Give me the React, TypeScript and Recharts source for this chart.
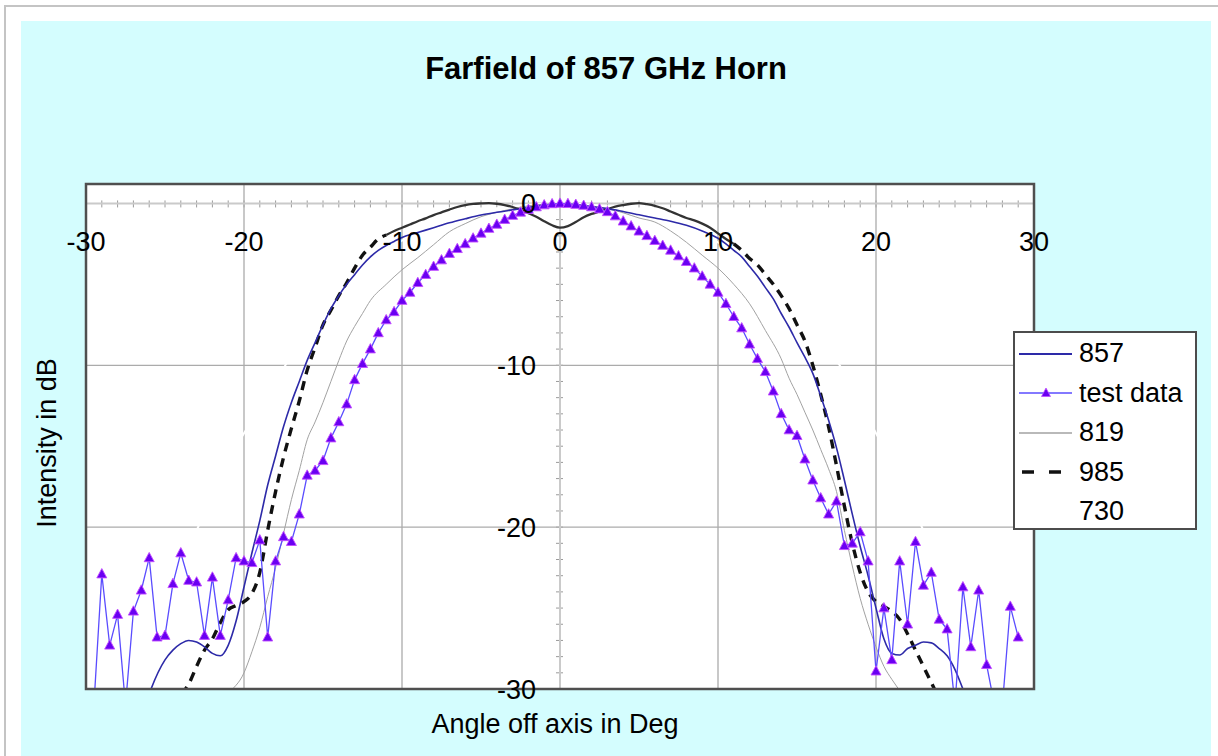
import React from 'react';
import {
  LineChart,
  Line,
  XAxis,
  YAxis,
  ReferenceLine,
  ReferenceDot,
  ReferenceArea,
  Legend,
} from 'recharts';

// ---- chart values -------------------------------------------------------

// Axis ranges and labelled ticks
const X_DOMAIN: [number, number] = [-30, 30];
const Y_DOMAIN: [number, number] = [-30, 1.2];
const X_TICKS = [-30, -20, -10, 0, 10, 20, 30];
const Y_TICKS = [0, -10, -20, -30];
const X_GRID = [-20, -10, 10, 20];
const Y_GRID = [-10, -20];
const X_MINOR = Array.from({ length: 61 }, (_, i) => i - 30);
const Y_MINOR = Array.from({ length: 31 }, (_, i) => -i);

// Simulated 857 GHz beam: [angle deg, intensity dB]
const beam857: [number, number][] = [
  [-28, -38], [-27, -33.5], [-26, -30.3], [-25, -28.2], [-24.5, -27.6], [-24, -27.2],
  [-23.5, -27.0], [-23, -27.1], [-22.5, -27.4], [-22, -27.8], [-21.5, -27.95], [-21, -27.3],
  [-20.5, -25.8], [-20, -23.7], [-19.5, -21.6], [-19, -19.6], [-18.5, -17.4], [-18, -15.6],
  [-17.5, -13.8], [-17, -12.3], [-16.5, -11.0], [-16, -9.7], [-15.5, -8.6], [-15, -7.5],
  [-14.5, -6.5], [-14, -5.7], [-13.5, -5.0], [-13, -4.4], [-12.5, -3.8], [-12, -3.3],
  [-11.5, -2.9], [-11, -2.6], [-10.5, -2.35], [-10, -2.1], [-9, -1.8], [-8, -1.5],
  [-7, -1.2], [-6, -0.95], [-5, -0.72], [-4, -0.55], [-3, -0.4], [-2, -0.25], [-1, -0.1],
  [0, -0.05], [1, -0.08], [2, -0.2], [3, -0.32], [4, -0.5], [5, -0.7], [6, -0.9], [7, -1.1],
  [8, -1.35], [9, -1.7], [10, -2.15], [10.5, -2.5], [11, -2.9], [11.5, -3.3], [12, -3.9],
  [12.5, -4.5], [13, -5.2], [13.5, -5.9], [14, -6.8], [14.5, -7.65], [15, -8.6], [15.5, -9.5],
  [16, -10.5], [16.5, -11.9], [17, -13.4], [17.5, -15.1], [18, -17.1], [18.5, -19.2],
  [19, -21.2], [19.5, -23.0], [20, -25.0], [20.5, -26.9], [21, -27.8], [21.5, -27.9],
  [22, -27.5], [22.5, -27.3], [23, -27.1], [23.5, -27.15], [24, -27.5], [24.5, -27.95],
  [25, -28.8], [25.5, -30.0], [26, -31.2], [27, -34], [28, -38],
];

// Measured horn pattern
const testData: [number, number][] = [
  [-29.5, -31], [-29, -22.9], [-28.5, -27.3], [-28, -25.4], [-27.5, -31], [-27, -25.2],
  [-26.5, -23.9], [-26, -21.9], [-25.5, -26.8], [-25, -26.7], [-24.5, -23.5], [-24, -21.6],
  [-23.5, -23.3], [-23, -23.4], [-22.5, -26.7], [-22, -23.1], [-21.5, -26.7], [-21, -24.5],
  [-20.5, -21.9], [-20, -22.1], [-19.5, -22.2], [-19, -20.8], [-18.5, -26.8], [-18, -22.1],
  [-17.5, -20.6], [-17, -20.9], [-16.5, -19.2], [-16, -16.8], [-15.5, -16.5], [-15, -15.9],
  [-14.5, -14.5], [-14, -13.5], [-13.5, -12.4], [-13, -10.9], [-12.5, -9.9], [-12, -9.0],
  [-11.5, -8.0], [-11, -7.2], [-10.5, -6.7], [-10, -6.0], [-9.5, -5.5], [-9, -4.9],
  [-8.5, -4.4], [-8, -3.9], [-7.5, -3.5], [-7, -3.1], [-6.5, -2.8], [-6, -2.5],
  [-5.5, -2.15], [-5, -1.85], [-4.5, -1.55], [-4, -1.3], [-3.5, -1.0], [-3, -0.75],
  [-2.5, -0.55], [-2, -0.38], [-1.5, -0.22], [-1, -0.1], [-0.5, -0.03], [0, 0],
  [0.5, -0.02], [1, -0.07], [1.5, -0.13], [2, -0.22], [2.5, -0.35], [3, -0.52],
  [3.5, -0.78], [4, -1.1], [4.5, -1.4], [5, -1.72], [5.5, -2.0], [6, -2.3],
  [6.5, -2.6], [7, -2.9], [7.5, -3.25], [8, -3.6], [8.5, -4.0], [9, -4.5],
  [9.5, -5.0], [10, -5.5], [10.5, -6.2], [11, -7.0], [11.5, -7.7], [12, -8.7],
  [12.5, -9.6], [13, -10.4], [13.5, -11.6], [14, -13.0], [14.5, -14.0], [15, -14.35],
  [15.5, -15.8], [16, -17.1], [16.5, -18.2], [17, -19.2], [17.5, -18.4], [18, -21.15],
  [18.5, -21.0], [19, -20.3], [19.5, -22.1], [20, -28.9], [20.5, -25.0], [21, -28.2],
  [21.5, -22.1], [22, -26.0], [22.5, -20.9], [23, -23.6], [23.5, -22.8], [24, -25.7],
  [24.5, -26.3], [25, -31], [25.5, -23.7], [26, -27.4], [26.5, -23.9], [27, -28.5],
  [27.5, -31], [28, -31], [28.5, -24.9], [29, -26.8],
];

// Simulated 819 GHz beam
const beam819: [number, number][] = [
  [-23, -32], [-22, -31.5], [-21, -30.3], [-20, -29.0], [-19.5, -27.7], [-19, -26.2],
  [-18.5, -24.3], [-18, -22.5], [-17.5, -20.4], [-17, -18.3], [-16.5, -16.5], [-16, -14.6],
  [-15.5, -13.5], [-15, -12.3], [-14.5, -11.0], [-14, -9.7], [-13.5, -8.5], [-13, -7.6],
  [-12.5, -6.8], [-12, -6.0], [-11, -5.0], [-10, -4.1], [-9, -3.35], [-8, -2.55], [-7, -1.75],
  [-6, -1.25], [-5, -0.82], [-4, -0.55], [-3, -0.33], [-2, -0.15], [-1, -0.04], [0, 0],
  [1, -0.04], [2, -0.17], [3, -0.32], [4, -0.58], [5, -0.9], [6, -1.15], [7, -1.7], [8, -2.4],
  [9, -3.2], [10, -4.0], [11, -5.0], [12, -6.2], [13, -7.85], [14, -9.6], [14.5, -10.8],
  [15, -11.8], [15.5, -12.9], [16, -14.0], [16.5, -15.2], [17, -16.4], [17.5, -17.8],
  [18, -20.2], [18.5, -22.4], [19, -24.4], [19.5, -26.0], [20, -27.4], [20.5, -28.6],
  [21, -29.4], [21.5, -30.1], [22, -30.8], [23, -32],
];

// Simulated 985 GHz beam
const beam985: [number, number][] = [
  [-25, -32], [-24, -30.4], [-23.5, -29.7], [-23, -28.6], [-22.5, -27.6], [-22, -26.9],
  [-21.5, -25.9], [-21, -25.1], [-20.5, -24.85], [-20, -24.6], [-19.5, -24.1], [-19, -22.8],
  [-18.5, -20.2], [-18, -17.8], [-17.5, -15.7], [-17, -13.9], [-16.5, -12.2], [-16, -10.3],
  [-15.5, -8.9], [-15, -7.5], [-14.5, -6.6], [-14, -5.7], [-13.5, -4.9], [-13, -4.0],
  [-12.5, -3.2], [-12, -2.7], [-11.5, -2.2], [-11, -1.95], [-10.5, -1.7], [-10, -1.5],
  [-9.5, -1.3], [-9, -1.1], [-8.5, -0.92], [-8, -0.72], [-7.5, -0.55], [-7, -0.38],
  [-6.5, -0.22], [-6, -0.1], [-5.5, -0.03], [-5, 0.0], [-4.5, 0.02], [-4, -0.02],
  [-3.5, -0.1], [-3, -0.22], [-2.5, -0.4], [-2, -0.6], [-1.5, -0.82], [-1, -1.1],
  [-0.5, -1.35], [0, -1.5], [0.5, -1.4], [1, -1.15], [1.5, -0.85], [2, -0.65], [2.5, -0.5],
  [3, -0.35], [3.5, -0.2], [4, -0.1], [4.5, -0.02], [5, 0.02], [5.5, -0.05], [6, -0.15],
  [6.5, -0.3], [7, -0.5], [7.5, -0.7], [8, -0.9], [8.5, -1.05], [9, -1.25], [9.5, -1.5],
  [10, -1.85], [10.5, -2.2], [11, -2.5], [11.5, -2.9], [12, -3.4], [12.5, -3.8], [13, -4.4],
  [13.5, -5.0], [14, -5.7], [14.5, -6.5], [15, -7.5], [15.5, -8.5], [16, -10.0],
  [16.5, -11.8], [17, -13.8], [17.5, -16.2], [18, -18.7], [18.5, -21.0], [19, -22.8],
  [19.5, -24.0], [20, -24.6], [20.5, -24.9], [21, -25.2], [21.5, -25.7], [22, -26.6],
  [22.5, -27.6], [23, -28.6], [23.5, -29.6], [24, -30.6], [25, -32],
];

// Simulated 730 GHz beam
const beam730: [number, number][] = [
  [-30, -33], [-28.5, -30], [-27, -27.3], [-25, -23.8], [-23, -20.2], [-21.5, -16.8],
  [-20, -14.2], [-19, -12.6], [-18, -11.0], [-17, -9.4], [-16, -7.9], [-15, -6.5],
  [-14, -5.2], [-12, -3.5], [-10, -2.3], [-8, -1.4], [-6, -0.75], [-4, -0.32], [-2, -0.08],
  [0, 0], [2, -0.08], [4, -0.32], [6, -0.75], [8, -1.4], [10, -2.4], [12, -3.7], [14, -5.6],
  [15, -6.9], [16, -8.0], [17, -9.1], [17.7, -10], [18.5, -11.3], [20, -14.2], [21.5, -16.8],
  [23, -20.2], [25, -23.8], [27, -27.3], [28.5, -30], [30, -33],
];

// Main lobe of the 985 curve is drawn solid, the flanks dashed
const SOLID_LIMIT_985 = 11;

// ---- styling ------------------------------------------------------------

const FONT = '"Liberation Sans", Arial, Helvetica, sans-serif';
const W = 1218;
const H = 756;
const MARGIN = { top: 184, left: 86, right: 184, bottom: 67 };

type Pt = { x: number; y: number | null };
const toPoints = (pairs: [number, number][]): Pt[] => pairs.map(([x, y]) => ({ x, y }));

const pts857 = toPoints(beam857);
const ptsTest = toPoints(testData);
const pts819 = toPoints(beam819);
const pts730 = toPoints(beam730);
const pts985Core = toPoints(beam985.filter(([x]) => Math.abs(x) <= SOLID_LIMIT_985));
const pts985Wings = beam985.map(([x, y]) => ({ x, y: Math.abs(x) < SOLID_LIMIT_985 ? null : y }));

const SERIES_STYLE: Record<string, { stroke: string; width: number; dash?: string; marker?: boolean }> = {
  '857': { stroke: '#2d2aa8', width: 1.6 },
  'test data': { stroke: '#5a4cff', width: 1.3, marker: true },
  '819': { stroke: '#a2a2a2', width: 1 },
  '985': { stroke: '#111111', width: 3.4, dash: '9 7' },
  '730': { stroke: '#ffffff', width: 2 },
};
const LEGEND_ORDER = ['857', 'test data', '819', '985', '730'];

const TRI_FILL = '#6a00f2';
const TRI_EDGE = '#c24dff';

const TriangleDot = (props: any) => {
  const { cx, cy, key } = props;
  if (cx == null || cy == null || Number.isNaN(cx) || Number.isNaN(cy)) return null;
  return (
    <polygon
      key={key}
      points={`${cx},${cy - 5.5} ${cx - 5},${cy + 3.8} ${cx + 5},${cy + 3.8}`}
      fill={TRI_FILL}
      stroke={TRI_EDGE}
      strokeWidth={0.9}
    />
  );
};

const XMinorTick = (props: any) => {
  const { cx, cy } = props;
  if (cx == null || cy == null) return null;
  return <line x1={cx} x2={cx} y1={cy - 3} y2={cy + 4} stroke="#9a9a9a" strokeWidth={1} />;
};

const YMinorTick = (props: any) => {
  const { cx, cy } = props;
  if (cx == null || cy == null) return null;
  return <line x1={cx - 4} x2={cx + 3} y1={cy} y2={cy} stroke="#9a9a9a" strokeWidth={1} />;
};

const LegendBox = (props: any) => {
  const payload: any[] = props.payload || [];
  const items = LEGEND_ORDER.map((name) => payload.find((p) => p.value === name)).filter(Boolean);
  return (
    <div
      style={{
        width: 184,
        height: 199,
        boxSizing: 'border-box',
        border: '2px solid #4c4c4c',
        background: '#ffffff',
        paddingTop: 1,
        fontFamily: FONT,
      }}
    >
      {items.map((entry: any) => {
        const st = SERIES_STYLE[entry.value];
        return (
          <div key={entry.value} style={{ height: 39.5, display: 'flex', alignItems: 'center' }}>
            <svg width={62} height={30} style={{ display: 'block' }}>
              <line
                x1={4}
                x2={57}
                y1={15}
                y2={15}
                stroke={st.stroke}
                strokeWidth={st.dash ? 3.5 : st.width + 0.4}
                strokeDasharray={st.dash ? '12 15' : undefined}
                strokeDashoffset={st.dash ? -3 : undefined}
              />
              {st.marker && (
                <polygon points="31,10 26.5,18.5 35.5,18.5" fill={TRI_FILL} stroke={TRI_EDGE} strokeWidth={0.8} />
              )}
            </svg>
            <span style={{ fontSize: 27, color: '#000', marginLeft: 2, lineHeight: 1 }}>{entry.value}</span>
          </div>
        );
      })}
    </div>
  );
};

export default function App() {
  return (
    <div style={{ position: 'absolute', left: 0, top: 0, width: W, height: H, background: '#ffffff', overflow: 'hidden' }}>
      <svg width={W} height={H} style={{ position: 'absolute', left: 0, top: 0 }}>
        <line x1={4} x2={W} y1={6} y2={6} stroke="#c4c4c4" strokeWidth={2} />
        <line x1={5} x2={5} y1={6} y2={H} stroke="#c4c4c4" strokeWidth={2} />
        <rect x={21} y={21} width={1190} height={H - 21} fill="#d4fdfe" />
        <text x={606} y={79} textAnchor="middle" fontFamily={FONT} fontWeight="bold" fontSize={31} fill="#000">
          Farfield of 857 GHz Horn
        </text>
        <text x={555} y={733} textAnchor="middle" fontFamily={FONT} fontSize={27} fill="#000">
          Angle off axis in Deg
        </text>
        <text
          x={0}
          y={0}
          transform="translate(56 443) rotate(-90)"
          textAnchor="middle"
          fontFamily={FONT}
          fontSize={27}
          fill="#000"
        >
          Intensity in dB
        </text>
      </svg>
      <div style={{ position: 'absolute', left: 0, top: 0 }}>
        <LineChart width={W} height={H} margin={MARGIN}>
          <XAxis type="number" dataKey="x" domain={X_DOMAIN} allowDataOverflow hide />
          <YAxis type="number" dataKey="y" domain={Y_DOMAIN} allowDataOverflow hide />

          {/* plot background */}
          <ReferenceArea
            x1={X_DOMAIN[0]}
            x2={X_DOMAIN[1]}
            y1={Y_DOMAIN[0]}
            y2={Y_DOMAIN[1]}
            fill="#ffffff"
            fillOpacity={1}
            stroke="none"
          />

          {/* grid */}
          {X_GRID.map((v) => (
            <ReferenceLine key={`gx${v}`} x={v} stroke="#ababab" strokeWidth={1.3} />
          ))}
          {Y_GRID.map((v) => (
            <ReferenceLine key={`gy${v}`} y={v} stroke="#ababab" strokeWidth={1.3} />
          ))}

          {/* axes crossing at the origin */}
          <ReferenceLine x={0} stroke="#cacaca" strokeWidth={2} />
          <ReferenceLine y={0} stroke="#cacaca" strokeWidth={2} />
          {X_MINOR.map((v) => (
            <ReferenceDot key={`mx${v}`} x={v} y={0} r={0} shape={XMinorTick} zIndex={350} />
          ))}
          {Y_MINOR.map((v) => (
            <ReferenceDot key={`my${v}`} x={0} y={v} r={0} shape={YMinorTick} zIndex={350} />
          ))}

          {/* series */}
          <Line
            data={pts730}
            dataKey="y"
            name="730"
            type="monotone"
            stroke={SERIES_STYLE['730'].stroke}
            strokeWidth={SERIES_STYLE['730'].width}
            dot={false}
            isAnimationActive={false}
          />
          <Line
            data={pts819}
            dataKey="y"
            name="819"
            type="monotone"
            stroke={SERIES_STYLE['819'].stroke}
            strokeWidth={SERIES_STYLE['819'].width}
            dot={false}
            isAnimationActive={false}
          />
          <Line
            data={pts985Wings}
            dataKey="y"
            name="985"
            type="monotone"
            stroke={SERIES_STYLE['985'].stroke}
            strokeWidth={SERIES_STYLE['985'].width}
            strokeDasharray={SERIES_STYLE['985'].dash}
            dot={false}
            connectNulls={false}
            isAnimationActive={false}
          />
          <Line
            data={pts985Core}
            dataKey="y"
            name="985 core"
            legendType="none"
            type="monotone"
            stroke="#333333"
            strokeWidth={2.3}
            dot={false}
            isAnimationActive={false}
          />
          <Line
            data={pts857}
            dataKey="y"
            name="857"
            type="monotone"
            stroke={SERIES_STYLE['857'].stroke}
            strokeWidth={SERIES_STYLE['857'].width}
            dot={false}
            isAnimationActive={false}
          />
          <Line
            data={ptsTest}
            dataKey="y"
            name="test data"
            type="linear"
            stroke={SERIES_STYLE['test data'].stroke}
            strokeWidth={SERIES_STYLE['test data'].width}
            dot={TriangleDot}
            activeDot={false}
            isAnimationActive={false}
          />

          {/* tick labels */}
          {X_TICKS.map((v) => (
            <ReferenceDot
              key={`lx${v}`}
              x={v}
              y={0}
              r={0}
              fill="none"
              stroke="none"
              label={{ value: String(v), position: 'bottom', offset: 28, fontSize: 27, fill: '#000', fontFamily: FONT }}
            />
          ))}
          {Y_TICKS.map((v) => (
            <ReferenceDot
              key={`ly${v}`}
              x={0}
              y={v}
              r={0}
              fill="none"
              stroke="none"
              label={{ value: String(v), position: 'left', offset: 24, fontSize: 27, fill: '#000', fontFamily: FONT }}
            />
          ))}

          {/* plot frame */}
          <ReferenceArea
            x1={X_DOMAIN[0]}
            x2={X_DOMAIN[1]}
            y1={Y_DOMAIN[0]}
            y2={Y_DOMAIN[1]}
            fill="none"
            stroke="#4f4f4f"
            strokeWidth={2.5}
            zIndex={700}
          />

          <Legend
            layout="horizontal"
            verticalAlign="middle"
            align="center"
            content={LegendBox}
            wrapperStyle={{ position: 'absolute', left: 1013, top: 331, width: 184, height: 199 }}
          />
        </LineChart>
      </div>
    </div>
  );
}
